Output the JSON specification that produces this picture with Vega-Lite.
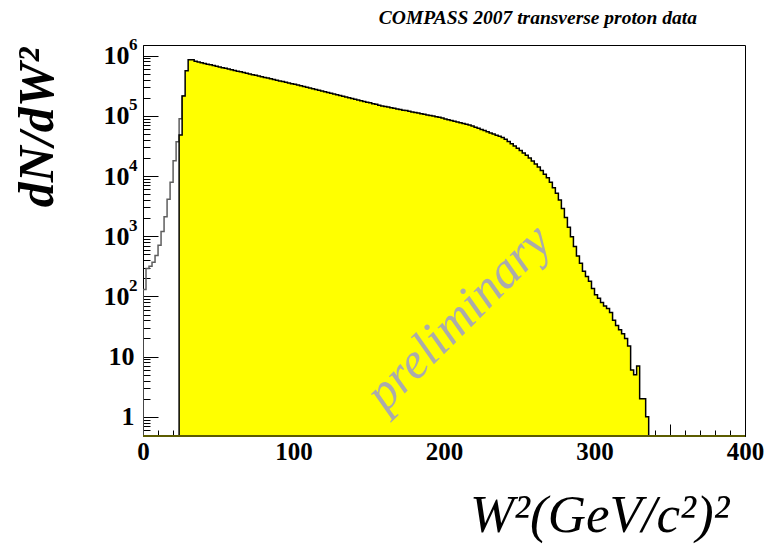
{
  "$schema": "https://vega.github.io/schema/vega-lite/v6.json",
  "width": 602,
  "height": 391,
  "autosize": {"type": "none"},
  "padding": {"left": 143, "top": 45, "right": 19, "bottom": 113},
  "background": "white",
  "title": {"text": "COMPASS 2007 transverse proton data", "anchor": "end", "frame": "group", "font": "Liberation Serif", "fontSize": 19.5, "fontStyle": "italic", "fontWeight": "bold", "color": "black", "offset": 7, "dx": -48},
  "config": {"view": {"stroke": "#000000", "strokeWidth": 1}, "axis": {"grid": false, "zindex": 1, "tickColor": "black", "labelColor": "black", "titleColor": "black"}},
  "datasets": {
    "gray": [{"W":0,"n":0.48},{"W":0,"n":130},{"W":2,"n":290},{"W":4,"n":316},{"W":6,"n":370},{"W":8,"n":480},{"W":10,"n":710},{"W":12,"n":1200},{"W":14,"n":2100},{"W":16,"n":4100},{"W":18,"n":7900},{"W":20,"n":18000},{"W":22,"n":37000},{"W":24,"n":89000},{"W":26,"n":214000},{"W":28,"n":214000}],
    "hist": [{"W":24,"n":0.48},{"W":24,"n":48000},{"W":26,"n":214000},{"W":28,"n":562000},{"W":30,"n":851000},{"W":32,"n":851000},{"W":34,"n":802000},{"W":36,"n":781000},{"W":38,"n":760000},{"W":40,"n":740000},{"W":42,"n":721000},{"W":44,"n":702000},{"W":46,"n":684000},{"W":48,"n":665000},{"W":50,"n":647000},{"W":52,"n":631000},{"W":54,"n":614000},{"W":56,"n":598000},{"W":58,"n":582000},{"W":60,"n":566000},{"W":62,"n":552000},{"W":64,"n":537000},{"W":66,"n":524000},{"W":68,"n":509000},{"W":70,"n":495000},{"W":72,"n":483000},{"W":74,"n":470000},{"W":76,"n":458000},{"W":78,"n":446000},{"W":80,"n":434000},{"W":82,"n":423000},{"W":84,"n":411000},{"W":86,"n":401000},{"W":88,"n":390000},{"W":90,"n":379000},{"W":92,"n":370000},{"W":94,"n":360000},{"W":96,"n":351000},{"W":98,"n":341000},{"W":100,"n":334000},{"W":102,"n":324000},{"W":104,"n":316000},{"W":106,"n":307000},{"W":108,"n":298000},{"W":110,"n":290000},{"W":112,"n":281000},{"W":114,"n":274000},{"W":116,"n":266000},{"W":118,"n":258000},{"W":120,"n":251000},{"W":122,"n":244000},{"W":124,"n":237000},{"W":126,"n":231000},{"W":128,"n":224000},{"W":130,"n":218000},{"W":132,"n":211000},{"W":134,"n":206000},{"W":136,"n":200000},{"W":138,"n":194000},{"W":140,"n":189000},{"W":142,"n":183000},{"W":144,"n":178000},{"W":146,"n":173000},{"W":148,"n":168000},{"W":150,"n":164000},{"W":152,"n":159000},{"W":154,"n":155000},{"W":156,"n":150000},{"W":158,"n":146000},{"W":160,"n":143000},{"W":162,"n":140000},{"W":164,"n":136000},{"W":166,"n":133000},{"W":168,"n":130000},{"W":170,"n":127000},{"W":172,"n":124000},{"W":174,"n":122000},{"W":176,"n":119000},{"W":178,"n":116000},{"W":180,"n":114000},{"W":182,"n":111000},{"W":184,"n":108000},{"W":186,"n":106000},{"W":188,"n":103500},{"W":190,"n":101000},{"W":192,"n":98900},{"W":194,"n":96600},{"W":196,"n":94200},{"W":198,"n":91600},{"W":200,"n":88900},{"W":202,"n":86300},{"W":204,"n":83900},{"W":206,"n":81500},{"W":208,"n":79100},{"W":210,"n":76700},{"W":212,"n":74500},{"W":214,"n":72400},{"W":216,"n":70300},{"W":218,"n":67600},{"W":220,"n":64700},{"W":222,"n":61900},{"W":224,"n":59300},{"W":226,"n":56800},{"W":228,"n":54300},{"W":230,"n":52000},{"W":232,"n":49800},{"W":234,"n":47600},{"W":236,"n":45600},{"W":238,"n":43700},{"W":240,"n":40800},{"W":242,"n":37400},{"W":244,"n":34300},{"W":246,"n":31400},{"W":248,"n":28800},{"W":250,"n":26400},{"W":252,"n":24200},{"W":254,"n":22200},{"W":256,"n":19900},{"W":258,"n":17800},{"W":260,"n":15900},{"W":262,"n":14100},{"W":264,"n":12300},{"W":266,"n":10700},{"W":268,"n":9330},{"W":270,"n":7850},{"W":272,"n":6380},{"W":274,"n":5190},{"W":276,"n":3980},{"W":278,"n":2880},{"W":280,"n":2040},{"W":282,"n":1410},{"W":284,"n":977},{"W":286,"n":676},{"W":288,"n":468},{"W":290,"n":355},{"W":292,"n":263},{"W":294,"n":214},{"W":296,"n":178},{"W":298,"n":135},{"W":300,"n":107},{"W":302,"n":93},{"W":304,"n":79},{"W":306,"n":69},{"W":308,"n":63},{"W":310,"n":54},{"W":312,"n":40},{"W":314,"n":33},{"W":316,"n":28},{"W":318,"n":24},{"W":320,"n":20},{"W":322,"n":15},{"W":324,"n":6},{"W":326,"n":5},{"W":328,"n":7},{"W":330,"n":2},{"W":332,"n":2},{"W":334,"n":1},{"W":336,"n":1},{"W":336,"n":0.48},{"W":400,"n":0.48}],
    "note": [{"label": "preliminary"}]
  },
  "resolve": {"axis": {"x": "independent", "y": "independent"}},
  "layer": [
    {
      "data": {"name": "gray"},
      "mark": {"type": "line", "interpolate": "step-after", "color": "#5e5e5e", "strokeWidth": 1.5, "clip": true},
      "encoding": {
        "x": {"field": "W", "type": "quantitative", "scale": {"domain": [0, 400], "nice": false, "zero": false},
          "axis": {"orient": "bottom", "values": [0,50,100,150,200,250,300,350,400], "tickSize": -12, "domainColor": "black", "domainWidth": 1,
            "labelExpr": "datum.value % 100 === 0 ? format(datum.value, 'd') : ''", "labelFont": "Liberation Serif", "labelFontWeight": "bold", "labelFontSize": 25, "labelPadding": 15, "labelBaseline": "top", "labelFlush": false, "labelOverlap": false,
            "title": "W²(GeV/c²)²", "titleFont": "Liberation Serif", "titleFontStyle": "italic", "titleFontWeight": "normal", "titleFontSize": 53, "titleX": 586, "titleY": 95, "titleAlign": "right", "titleBaseline": "alphabetic", "titleAngle": 0}},
        "y": {"field": "n", "type": "quantitative", "scale": {"type": "log", "domain": [0.48, 1500000], "nice": false},
          "axis": {"orient": "left", "values": [1, 10], "tickSize": -15, "domainColor": "black", "domainWidth": 1,
            "labelExpr": "datum.value === 1 ? '1' : '10'", "labelFont": "Liberation Serif", "labelFontWeight": "bold", "labelFontSize": 26, "labelPadding": 24, "labelAlign": "right", "labelBaseline": "middle", "labelOverlap": false, "labelFlush": false,
            "title": "dN/dW²", "titleFont": "Liberation Serif", "titleFontStyle": "italic", "titleFontWeight": "bold", "titleFontSize": 50, "titleX": -106, "titleY": 82, "titleAngle": 270, "titleAlign": "center", "titleBaseline": "middle"}},
        "order": {"value": null}
      }
    },
    {
      "data": {"name": "hist"},
      "mark": {"type": "area", "interpolate": "step-after", "color": "#ffff00", "clip": true},
      "encoding": {
        "x": {"field": "W", "type": "quantitative",
          "axis": {"orient": "bottom", "values": [10,20,30,40,60,70,80,90,110,120,130,140,160,170,180,190,210,220,230,240,260,270,280,290,310,320,330,340,360,370,380,390], "tickSize": -6, "labels": false, "domain": false, "title": null}},
        "y": {"field": "n", "type": "quantitative",
          "axis": {"orient": "left", "values": [100, 1000, 10000, 100000, 1000000], "tickSize": -15, "domain": false,
            "labelExpr": "'10'", "labelFont": "Liberation Serif", "labelFontWeight": "bold", "labelFontSize": 26, "labelPadding": 29, "labelAlign": "right", "labelBaseline": "middle", "labelOverlap": false, "labelFlush": false, "title": null}},
        "y2": {"datum": 0.48},
        "order": {"value": null}
      }
    },
    {
      "data": {"name": "note"},
      "mark": {"type": "text", "angle": 315, "font": "Liberation Serif", "fontStyle": "italic", "fontSize": 51, "color": "#ababab", "align": "center", "baseline": "middle"},
      "encoding": {
        "text": {"field": "label", "type": "nominal"},
        "x": {"datum": 210, "type": "quantitative", "axis": null},
        "y": {"datum": 44, "type": "quantitative",
          "axis": {"orient": "left", "values": [100, 1000, 10000, 100000, 1000000], "ticks": false, "domain": false,
            "labelExpr": "format(round(log(datum.value) / LN10), 'd')", "labelFont": "Liberation Serif", "labelFontWeight": "bold", "labelFontSize": 17, "labelPadding": 6, "labelOffset": -11, "labelAlign": "right", "labelBaseline": "middle", "labelOverlap": false, "labelFlush": false, "title": null}}
      }
    },
    {
      "data": {"name": "hist"},
      "mark": {"type": "line", "interpolate": "step-after", "color": "black", "strokeWidth": 1.5, "clip": true},
      "encoding": {
        "x": {"field": "W", "type": "quantitative", "axis": null},
        "y": {"field": "n", "type": "quantitative",
          "axis": {"orient": "left", "values": [0.5,0.6,0.7,0.8,0.9,2,3,4,5,6,7,8,9,20,30,40,50,60,70,80,90,200,300,400,500,600,700,800,900,2000,3000,4000,5000,6000,7000,8000,9000,20000,30000,40000,50000,60000,70000,80000,90000,200000,300000,400000,500000,600000,700000,800000,900000], "tickSize": -7, "labels": false, "domain": false, "title": null}},
        "order": {"value": null}
      }
    },
    {
      "data": {"name": "note"},
      "mark": {"type": "rule", "color": "#5c5c00", "strokeWidth": 2},
      "encoding": {
        "x": {"datum": 0, "type": "quantitative", "axis": null},
        "x2": {"datum": 400},
        "y": {"datum": 0.48, "type": "quantitative", "axis": null}
      }
    }
  ]
}
